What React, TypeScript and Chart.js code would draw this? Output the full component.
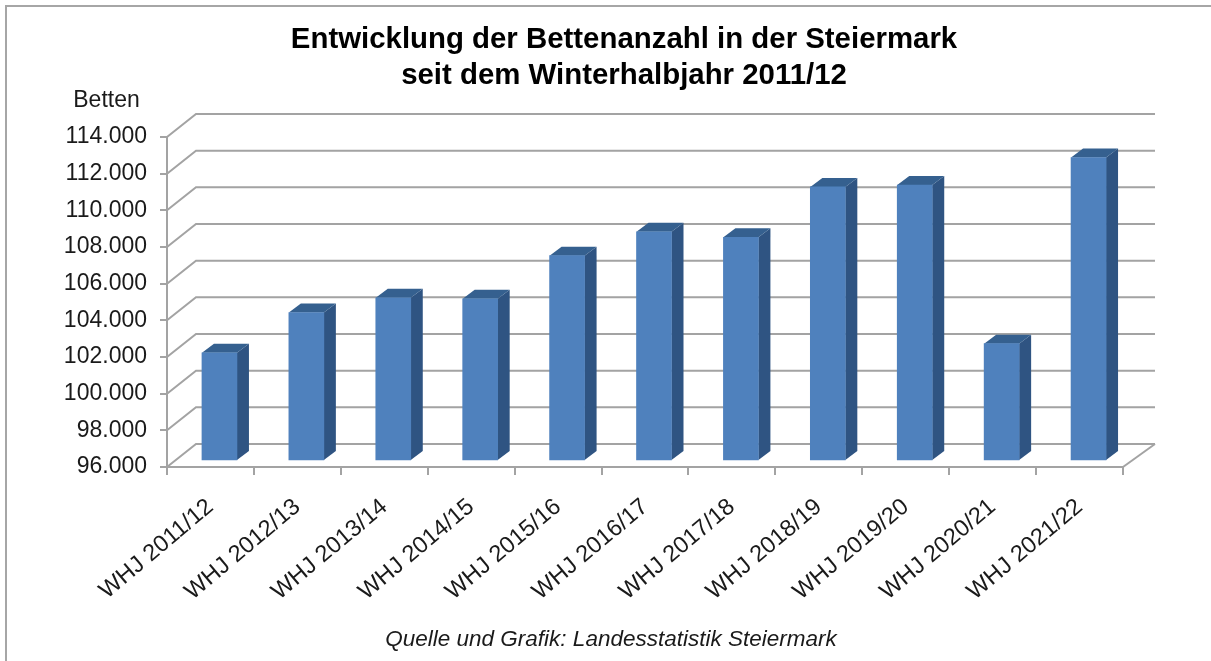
import React, { useEffect, useRef } from "react";
import { Chart, registerables } from "chart.js";

Chart.register(...registerables);

const categories = [
  "WHJ 2011/12", "WHJ 2012/13", "WHJ 2013/14", "WHJ 2014/15", "WHJ 2015/16", "WHJ 2016/17",
  "WHJ 2017/18", "WHJ 2018/19", "WHJ 2019/20", "WHJ 2020/21", "WHJ 2021/22",
];
const beds = [101900, 104100, 104900, 104850, 107200, 108500, 108200, 110950, 111050, 102400, 112550];
const yMin = 96000;
const yMax = 114000;
const yStep = 2000;
const titleLines = ["Entwicklung der Bettenanzahl in der Steiermark", "seit dem Winterhalbjahr 2011/12"];
const yAxisCaption = "Betten";
const sourceNote = "Quelle und Grafik: Landesstatistik Steiermark";

const GRID = "#a3a3a3";
const FRONT = "#4f81bd";
const SIDE = "#2f5482";
const TOP = "#35608f";
const WALL_DX = 29;
const WALL_DY = 23;
const BAR_DX = 9;
const BAR_DY = -6;
const DEPTH_DX = 12;
const DEPTH_DY = 9;

const poly = (ctx: CanvasRenderingContext2D, pts: number[][], fill: string) => {
  ctx.beginPath();
  pts.forEach(([x, y], i) => (i ? ctx.lineTo(x, y) : ctx.moveTo(x, y)));
  ctx.closePath();
  ctx.fillStyle = fill;
  ctx.fill();
};

const depthPlugin = {
  id: "depth",
  beforeDatasetsDraw(chart: any) {
    const { ctx, chartArea, scales } = chart;
    ctx.save();
    ctx.strokeStyle = GRID;
    ctx.lineWidth = 2;
    scales.y.ticks.forEach((t: any) => {
      const y = scales.y.getPixelForValue(t.value);
      ctx.beginPath();
      ctx.moveTo(chartArea.left, y);
      ctx.lineTo(chartArea.left + WALL_DX, y - WALL_DY);
      ctx.lineTo(chartArea.right + WALL_DX + 3, y - WALL_DY);
      ctx.stroke();
    });
    ctx.beginPath();
    ctx.moveTo(chartArea.right, chartArea.bottom);
    ctx.lineTo(chartArea.right + WALL_DX + 3, chartArea.bottom - WALL_DY);
    ctx.stroke();
    ctx.restore();

    ctx.save();
    ctx.translate(BAR_DX, BAR_DY);
    chart.getDatasetMeta(0).data.forEach((bar: any) => {
      const l = bar.x - bar.width / 2;
      const r = bar.x + bar.width / 2;
      poly(ctx, [[r, bar.y], [r + DEPTH_DX, bar.y - DEPTH_DY], [r + DEPTH_DX, bar.base - DEPTH_DY], [r, bar.base]], SIDE);
      poly(ctx, [[l, bar.y], [l + DEPTH_DX, bar.y - DEPTH_DY], [r + DEPTH_DX, bar.y - DEPTH_DY], [r, bar.y]], TOP);
    });
  },
  afterDatasetsDraw(chart: any) {
    chart.ctx.restore();
  },
  afterDraw(chart: any) {
    const { ctx } = chart;
    ctx.save();
    ctx.textBaseline = "middle";
    ctx.textAlign = "center";
    ctx.fillStyle = "#000000";
    ctx.font = "bold 29.4px 'Liberation Sans'";
    ctx.fillText(titleLines[0], 624, 40);
    ctx.fillText(titleLines[1], 624, 76);
    ctx.fillStyle = "#1a1a1a";
    ctx.font = "23px 'Liberation Sans'";
    ctx.fillText(yAxisCaption, 106.5, 101);
    ctx.font = "italic 22.5px 'Liberation Sans'";
    ctx.fillText(sourceNote, 611, 640);
    ctx.restore();
  },
};

export default function App() {
  const ref = useRef<HTMLCanvasElement>(null);
  useEffect(() => {
    const chart = new Chart(ref.current!, {
      type: "bar",
      data: {
        labels: categories,
        datasets: [{ label: "Betten", data: beds, base: yMin, backgroundColor: FRONT, barThickness: 35 }],
      },
      options: {
        animation: false,
        responsive: false,
        layout: { padding: { top: 137, right: 88, left: 0, bottom: 0 } },
        plugins: { legend: { display: false }, title: { display: false }, tooltip: { enabled: false } },
        scales: {
          x: {
            afterFit: (s: any) => { s.height = 194; },
            border: { color: GRID, width: 2 },
            grid: { offset: true, drawOnChartArea: false, color: GRID, lineWidth: 2, tickLength: 8 },
            ticks: {
              color: "#1a1a1a",
              font: { family: "'Liberation Sans'", size: 23.5 },
              minRotation: 40,
              maxRotation: 40,
              autoSkip: false,
              padding: 18,
            },
          },
          y: {
            min: yMin,
            max: yMax,
            afterFit: (s: any) => { s.width = 167; },
            border: { color: GRID, width: 2 },
            grid: { drawOnChartArea: false, color: GRID, lineWidth: 2, tickLength: 7 },
            ticks: {
              stepSize: yStep,
              color: "#1a1a1a",
              font: { family: "'Liberation Sans'", size: 23 },
              padding: 13,
              callback: (v: any) => String(v).replace(/(\d)(\d{3})$/, "$1.$2"),
            },
          },
        },
      },
      plugins: [depthPlugin],
    } as any);
    return () => chart.destroy();
  }, []);

  return (
    <div style={{ position: "absolute", left: 0, top: 0, width: 1211, height: 661, background: "#fff", overflow: "hidden" }}>
      <div style={{ position: "absolute", left: 5, top: 5, width: 1206, height: 656, borderLeft: "2px solid #a6a6a6", borderTop: "2px solid #a6a6a6" }} />
      <canvas ref={ref} width={1211} height={661} style={{ position: "absolute", left: 0, top: 0 }} />
    </div>
  );
}
